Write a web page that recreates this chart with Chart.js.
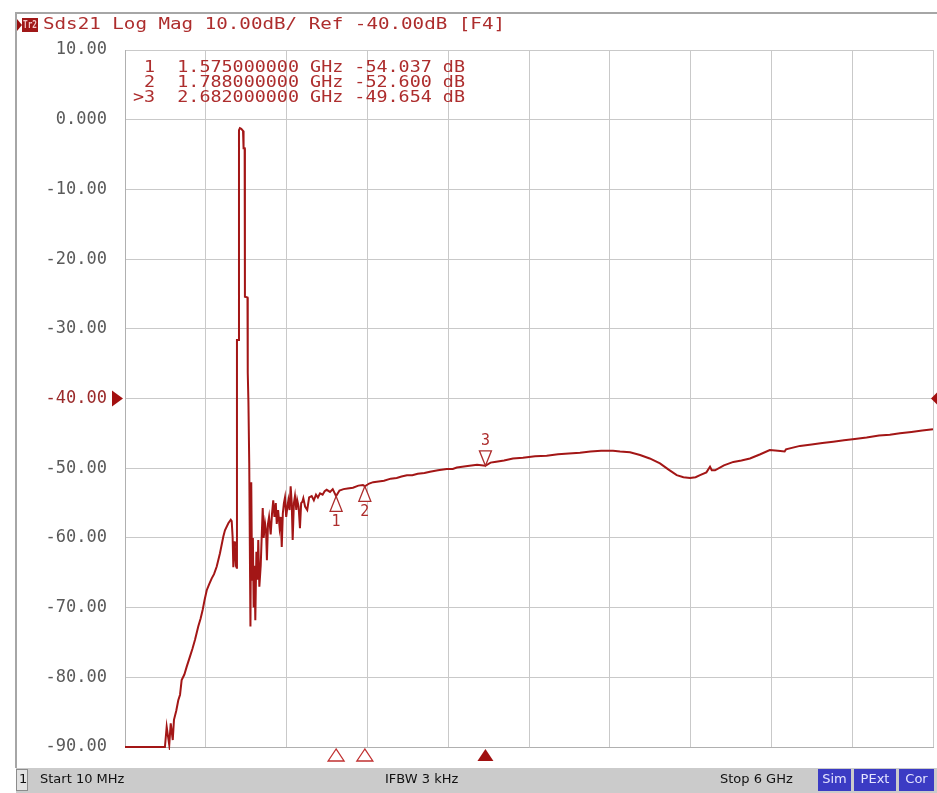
<!DOCTYPE html>
<html>
<head>
<meta charset="utf-8">
<title>Sds21 Log Mag</title>
<script src="https://cdn.jsdelivr.net/npm/chart.js@4.4.1/dist/chart.umd.min.js"></script>
<style>
  html, body { margin: 0; padding: 0; background: #fff; }
  #wrap { width: 937px; height: 793px; }
</style>
</head>
<body>
<div id="wrap"><canvas id="chart" width="937" height="793"></canvas></div>
<script>
'use strict';

// trace (GHz / dB), split in pieces to keep rows aligned
var riseGHz = [
  0.010, 0.306, 0.319, 0.338, 0.349, 0.364, 0.373, 0.390, 0.405, 0.418,
  0.430, 0.450, 0.467, 0.492, 0.510, 0.529, 0.553, 0.570, 0.586, 0.600,
  0.616, 0.635, 0.653, 0.670, 0.690, 0.714, 0.739, 0.751, 0.776, 0.794
];
var riseDb = [
  -90.0, -90.0, -87.1, -89.7, -86.6, -89.0, -86.1, -84.8, -83.3, -82.5,
  -80.4, -79.6, -78.5, -77.0, -75.9, -74.6, -72.7, -71.6, -70.3, -68.9,
  -67.5, -66.6, -65.8, -65.2, -64.1, -62.2, -59.8, -58.9, -57.9, -57.4
];

var spikeGHz = [
  0.801, 0.808, 0.813, 0.820, 0.825, 0.832, 0.838, 0.840, 0.852, 0.855,
  0.862, 0.872, 0.885, 0.889, 0.897, 0.899, 0.918, 0.920, 0.925, 0.931
];
var spikeDb = [
  -57.6, -59.9, -64.2, -60.5, -61.5, -64.0, -64.3, -31.6, -31.6, -1.5,
  -1.2, -1.3, -1.6, -4.1, -4.1, -25.4, -25.5, -36.3, -40.5, -49.3
];

var noiseGHz = [
  0.940, 0.946, 0.952, 0.958, 0.964, 0.970, 0.976, 0.984, 0.992, 0.998,
  1.006, 1.016, 1.024, 1.031, 1.038, 1.048, 1.056, 1.062, 1.070, 1.078,
  1.090, 1.100, 1.109, 1.118, 1.128, 1.135, 1.145, 1.156, 1.165, 1.172,
  1.180, 1.188, 1.196, 1.205, 1.214, 1.221, 1.230, 1.238, 1.246, 1.253,
  1.262, 1.270, 1.280, 1.287, 1.297, 1.307, 1.316, 1.325, 1.332, 1.345,
  1.361, 1.375, 1.394, 1.410, 1.426, 1.440, 1.456, 1.475, 1.490, 1.505
];
var noiseDb = [
  -72.7, -52.0, -66.0, -60.0, -70.0, -64.0, -71.8, -62.0, -66.0, -60.3,
  -67.0, -64.0, -59.5, -55.7, -60.0, -57.9, -59.0, -63.2, -58.0, -57.0,
  -59.5, -56.5, -54.6, -57.0, -55.0, -58.0, -56.0, -58.5, -57.0, -61.3,
  -56.5, -55.0, -54.2, -57.0, -55.5, -54.6, -56.0, -52.6, -55.0, -60.3,
  -55.0, -54.0, -56.0, -54.6, -55.5, -58.6, -55.0, -54.8, -54.3, -55.5,
  -56.0, -54.2, -54.0, -54.6, -53.8, -54.2, -53.6, -53.8, -53.3, -53.1
];

var tailGHz = [
  1.530, 1.550, 1.575, 1.600, 1.630, 1.660, 1.700, 1.740, 1.774, 1.788,
  1.820, 1.850, 1.890, 1.930, 1.980, 2.024, 2.060, 2.100, 2.140, 2.180,
  2.230, 2.271, 2.330, 2.395, 2.440, 2.470, 2.510, 2.550, 2.620, 2.682,
  2.720, 2.750, 2.820, 2.886, 2.960, 3.050, 3.136, 3.220, 3.300, 3.383,
  3.460, 3.540, 3.628, 3.680, 3.754, 3.828, 3.900, 3.976, 4.040, 4.100,
  4.150, 4.199, 4.240, 4.273, 4.320, 4.347, 4.360, 4.384, 4.450, 4.520,
  4.580, 4.643, 4.720, 4.790, 4.850, 4.900, 4.910, 5.014, 5.100, 5.180,
  5.260, 5.340, 5.420, 5.508, 5.600, 5.680, 5.755, 5.840, 5.920, 6.000
];
var tailDb = [
  -53.4, -53.0, -54.0, -53.2, -53.0, -52.9, -52.8, -52.5, -52.4, -52.6,
  -52.2, -52.0, -51.9, -51.8, -51.5, -51.4, -51.2, -51.0, -51.0, -50.8,
  -50.7, -50.5, -50.3, -50.1, -50.1, -49.9, -49.8, -49.7, -49.5, -49.65,
  -49.2, -49.1, -48.9, -48.6, -48.5, -48.3, -48.2, -48.0, -47.9, -47.8,
  -47.6, -47.5, -47.5, -47.6, -47.7, -48.1, -48.6, -49.3, -50.2, -51.0,
  -51.3, -51.4, -51.3, -51.0, -50.6, -49.8, -50.3, -50.3, -49.6, -49.1,
  -48.9, -48.6, -48.0, -47.4, -47.5, -47.6, -47.3, -46.8, -46.6, -46.4,
  -46.2, -46.0, -45.8, -45.6, -45.3, -45.2, -45.0, -44.8, -44.6, -44.4
];

var yTicks = [10, 0, -10, -20, -30, -40, -50, -60, -70, -80, -90];
var yTickLabels = ['10.00', '0.000', '-10.00', '-20.00', '-30.00', '-40.00',
  '-50.00', '-60.00', '-70.00', '-80.00', '-90.00'];
// 10 divisions from 10 MHz to 6 GHz
var xGridGHz = [0.010, 0.609, 1.208, 1.807, 2.406, 3.005, 3.604, 4.203, 4.802, 5.401, 6.000];

var markerNum = ['1', '2', '3'];
var markerGHz = [1.575, 1.788, 2.682];
var markerDb = [-54.037, -52.600, -49.654];
var activeMarker = 2;

var refDb = -40;
var titleText = 'Sds21 Log Mag 10.00dB/ Ref -40.00dB [F4]';
var startText = 'Start 10 MHz';
var ifbwText = 'IFBW 3 kHz';
var stopText = 'Stop 6 GHz';
var flagText = ['Sim', 'PExt', 'Cor'];

var freqGHz = riseGHz.concat(spikeGHz, noiseGHz, tailGHz);
var traceDb = riseDb.concat(spikeDb, noiseDb, tailDb);

var traceRed = '#a31616';
var textRed = '#ad2d2d';
var mono = '"DejaVu Sans Mono", monospace';

function fitText(ctx, text, x, y, width) {
  var w = ctx.measureText(text).width;
  ctx.save();
  ctx.translate(x, y);
  ctx.scale(width / w, 1);
  ctx.fillText(text, 0, 0);
  ctx.restore();
}

function tri(ctx, pts, fill, stroke) {
  ctx.beginPath();
  ctx.moveTo(pts[0], pts[1]);
  ctx.lineTo(pts[2], pts[3]);
  ctx.lineTo(pts[4], pts[5]);
  ctx.closePath();
  if (fill) { ctx.fillStyle = fill; ctx.fill(); }
  if (stroke) { ctx.strokeStyle = stroke; ctx.lineWidth = 1.3; ctx.stroke(); }
}

var vnaDecor = {
  id: 'vnaDecor',
  afterDraw: function(chart) {
    var ctx = chart.ctx;
    var xs = chart.scales.x;
    var ys = chart.scales.y;
    var area = chart.chartArea;
    ctx.save();

    // window frame
    ctx.strokeStyle = '#a6a6a6';
    ctx.lineWidth = 2;
    ctx.beginPath();
    ctx.moveTo(16, 768);
    ctx.lineTo(16, 13);
    ctx.lineTo(937, 13);
    ctx.stroke();

    // title line
    tri(ctx, [17, 19, 17, 31, 22, 25], '#9a1010');
    ctx.fillStyle = '#a01818';
    ctx.fillRect(22, 18, 16, 14);
    ctx.fillStyle = '#f3c9c9';
    ctx.font = 'bold 11px ' + mono;
    ctx.textBaseline = 'middle';
    ctx.textAlign = 'left';
    fitText(ctx, 'Tr2', 23, 25.5, 14);
    ctx.fillStyle = textRed;
    ctx.font = '16px ' + mono;
    fitText(ctx, titleText, 43, 25, 462);

    // marker readout
    for (var i = 0; i < markerNum.length; i++) {
      var line = (i === activeMarker ? '>' : ' ') + markerNum[i] + '  ' +
        markerGHz[i].toFixed(9) + ' GHz ' + markerDb[i].toFixed(3) + ' dB';
      fitText(ctx, line, 133, 68 + i * 15, 332);
    }

    // reference level arrows
    var yRef = ys.getPixelForValue(refDb);
    tri(ctx, [112, yRef - 8, 112, yRef + 8, 123, yRef], '#a31010');
    tri(ctx, [937, yRef - 6, 937, yRef + 6, 931, yRef], '#a31010');

    // markers on the trace and on the axis
    ctx.font = '15px ' + mono;
    for (var m = 0; m < markerNum.length; m++) {
      var px = xs.getPixelForValue(markerGHz[m]);
      var py = ys.getPixelForValue(markerDb[m]);
      if (m === activeMarker) {
        tri(ctx, [px, py, px - 6, py - 15, px + 6, py - 15], '#fff', textRed);
        ctx.fillStyle = textRed;
        fitText(ctx, markerNum[m], px - 4.5, py - 25, 9);
        tri(ctx, [px, area.bottom + 2, px - 8, area.bottom + 14, px + 8, area.bottom + 14], '#a01010');
      } else {
        tri(ctx, [px, py, px - 6, py + 15, px + 6, py + 15], '#fff', textRed);
        ctx.fillStyle = textRed;
        fitText(ctx, markerNum[m], px - 4.5, py + 26, 9);
        tri(ctx, [px, area.bottom + 2, px - 8, area.bottom + 14, px + 8, area.bottom + 14], '#fff', '#c03030');
      }
    }

    // status bar
    ctx.fillStyle = '#cbcbcb';
    ctx.fillRect(16, 768, 921, 25);
    ctx.fillStyle = '#e2e2e2';
    ctx.fillRect(16, 769, 12, 22);
    ctx.strokeStyle = '#8c8c8c';
    ctx.lineWidth = 1;
    ctx.strokeRect(16.5, 769.5, 11, 21);
    ctx.fillStyle = '#111';
    ctx.font = '13px "DejaVu Sans", sans-serif';
    ctx.textAlign = 'left';
    ctx.fillText('1', 19, 780);
    ctx.fillText(startText, 40, 780);
    ctx.fillText(ifbwText, 385, 780);
    ctx.fillText(stopText, 720, 780);

    var flagX = [818, 854, 899];
    var flagW = [33, 42, 35];
    for (var f = 0; f < flagText.length; f++) {
      ctx.fillStyle = '#3b3bc4';
      ctx.fillRect(flagX[f], 769, flagW[f], 22);
      ctx.fillStyle = '#e4e4ff';
      ctx.textAlign = 'center';
      ctx.fillText(flagText[f], flagX[f] + flagW[f] / 2, 780);
    }
    ctx.restore();
  }
};

var canvas = document.getElementById('chart');

var myChart = new Chart(canvas, {
  type: 'line',
  data: {
    datasets: [{
      data: freqGHz.map(function(f, i) { return { x: f, y: traceDb[i] }; }),
      borderColor: traceRed,
      borderWidth: 2,
      pointRadius: 0,
      tension: 0,
      clip: 3
    }]
  },
  options: {
    responsive: false,
    animation: false,
    layout: { padding: { top: 50, right: 4, bottom: 0, left: 0 } },
    plugins: {
      legend: { display: false },
      tooltip: { enabled: false }
    },
    scales: {
      x: {
        type: 'linear',
        min: 0.01,
        max: 6,
        afterBuildTicks: function(scale) {
          scale.ticks = xGridGHz.map(function(v) { return { value: v }; });
        },
        afterFit: function(scale) { scale.height = 46; },
        ticks: { display: false },
        grid: { color: '#c9c9c9', lineWidth: 1, drawTicks: false },
        border: { color: '#b0b0b0' }
      },
      y: {
        min: -90,
        max: 10,
        afterBuildTicks: function(scale) {
          scale.ticks = yTicks.map(function(v) { return { value: v }; });
        },
        afterFit: function(scale) { scale.width = 125; },
        ticks: {
          padding: 18,
          font: { family: 'DejaVu Sans Mono', size: 17 },
          color: function(c) {
            return c.tick && c.tick.value === refDb ? '#9a2a2a' : '#5a5a5a';
          },
          callback: function(value) { return yTickLabels[yTicks.indexOf(value)]; }
        },
        grid: { color: '#c9c9c9', lineWidth: 1, drawTicks: false },
        border: { color: '#b0b0b0' }
      }
    }
  },
  plugins: [vnaDecor]
});
</script>
</body>
</html>
